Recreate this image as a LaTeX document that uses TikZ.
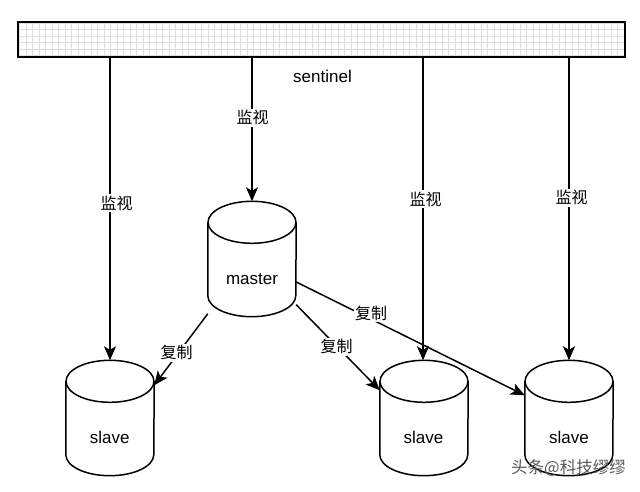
\documentclass[tikz,border=0pt]{standalone}
\usepackage{fontspec}
\setmainfont{Liberation Sans}
\newfontfamily\cjk{Noto Sans CJK SC}
\usetikzlibrary{arrows.meta}
\newcommand\mycyl[1]{%
  \draw[line width=1.5pt] ([yshift=-21pt]#1.north west) -- ([yshift=21pt]#1.south west)
    arc[start angle=180, end angle=360, x radius=44pt, y radius=21pt]
    -- ([yshift=-21pt]#1.north east);
  \draw[line width=1.5pt] ([yshift=-21pt]#1.north) ellipse [x radius=44pt, y radius=21pt];
}
\begin{document}
\begin{tikzpicture}[x=1pt,y=1pt,
  arr/.style={-{Stealth[length=14pt,width=12pt,inset=3.5pt]}, line width=1.5pt},
  cyl/.style={minimum width=88pt, minimum height=115pt, inner sep=0pt, draw=none},
  txt/.style={font=\fontsize{17}{20}\selectfont, inner sep=0pt},
  cn/.style={font=\cjk\fontsize{16}{19}\selectfont, fill=white, inner sep=1.5pt},
  bar/.style={minimum width=607pt, minimum height=35pt, inner sep=0pt, draw=none}]
\useasboundingbox (0,0) rectangle (640,491);
\fill[white] (0,0) rectangle (640,491);

% sentinel bar
\node[bar] (bar) at (321.5,451.5) {};
\begin{scope}
  \clip (bar.south west) rectangle (bar.north east);
  \draw[black!13, line width=0.6pt, step=6.5pt] ([shift={(-7,-7)}]bar.south west) grid ([shift={(7,7)}]bar.north east);
\end{scope}
\draw[line width=1.5pt] (bar.south west) rectangle (bar.north east);
\node[txt, anchor=base] (sentinel) at (322.5,408.7) {sentinel};

% cylinders
\node[cyl] (master) at (252,232) {};
\node[cyl] (slaveL) at (110,73) {};
\node[cyl] (slaveM) at (424,73) {};
\node[cyl] (slaveR) at (569,73) {};
\mycyl{master}
\mycyl{slaveL}
\mycyl{slaveM}
\mycyl{slaveR}
\node[txt, anchor=base] (mastertxt) at (252,206.7) {master};
\node[txt, anchor=base] (slaveLtxt) at (109.7,47.7) {slave};
\node[txt, anchor=base] (slaveMtxt) at (423.5,47.7) {slave};
\node[txt, anchor=base] (slaveRtxt) at (569,47.7) {slave};

% monitoring arrows
\draw[arr] (slaveL.north |- bar.south) -- (slaveL.north);
\draw[arr] (master.north |- bar.south) -- (master.north);
\draw[arr] ([xshift=-1pt]slaveM.north |- bar.south) -- ([xshift=-1pt]slaveM.north);
\draw[arr] (slaveR.north |- bar.south) -- (slaveR.north);
\node[cn] (m1) at (116.5,287.7) {监视};
\node[cn] (m2) at (252.5,373.3) {监视};
\node[cn] (m3) at (425.5,292) {监视};
\node[cn] (m4) at (571.5,293.3) {监视};

% replication arrows
\draw[arr] ([yshift=3pt]master.south west) -- ([yshift=-25pt]slaveL.north east);
\draw[arr] ([yshift=12pt]master.south east) -- ([yshift=-30pt]slaveM.north west);
\draw[arr] ([yshift=-23pt]master.east) -- ([yshift=-35pt]slaveR.north west);
\node[cn] (r1) at (176.7,138.3) {复制};
\node[cn] (r2) at (336.7,144.3) {复制};
\node[cn] (r3) at (371,177.7) {复制};

% watermark
\node[font=\cjk\fontsize{16.5}{19}\selectfont, text=black!65, inner sep=0pt] (wm) at (568.5,23) {头条@科技缪缪};
\end{tikzpicture}
\end{document}
